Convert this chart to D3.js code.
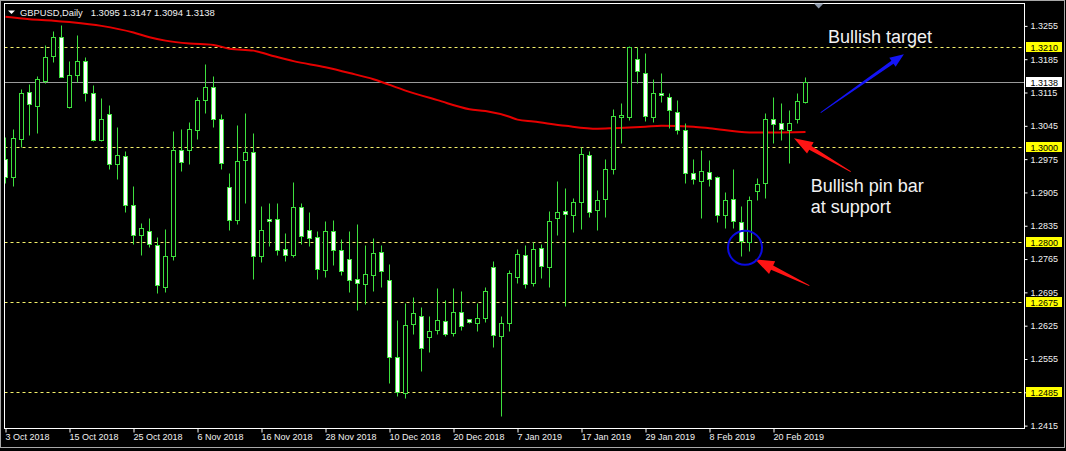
<!DOCTYPE html>
<html><head><meta charset="utf-8">
<script src="https://cdn.jsdelivr.net/npm/d3@7/dist/d3.min.js"></script>
<style>
html,body{margin:0;padding:0;background:#000;}
svg{display:block;}
text{font-family:"Liberation Sans",Arial,sans-serif;}
</style></head><body>
<svg id="chart" width="1066" height="451"></svg>
<script>
// ---------------- DATA ----------------
const symbolTitle = "GBPUSD,Daily";
const headerOHLC = "1.3095 1.3147 1.3094 1.3138";

const opens  = [1.2976,1.2938,1.3018,1.3117,1.3087,1.3139,1.3192,1.3232,1.3084,1.3151,
                1.3182,1.3115,1.3016,1.3069,1.2964,1.2981,1.2879,1.2815,1.2825,1.2795,
                1.2707,1.2772,1.2995,1.2995,1.3037,1.3100,1.3126,1.3060,1.2917,1.2848,
                1.2974,1.2990,1.2772,1.2850,1.2850,1.2787,1.2773,1.2874,1.2827,1.2811,
                1.2743,1.2823,1.2785,1.2766,1.2723,1.2712,1.2731,1.2780,1.2721,1.2559,
                1.2483,1.2629,1.2646,1.2601,1.2616,1.2634,1.2609,1.2653,1.2639,1.2630,
                1.2641,1.2748,1.2604,1.2630,1.2727,1.2774,1.2714,1.2789,1.2748,1.2851,
                1.2865,1.2858,1.2884,1.2983,1.2869,1.2892,1.2955,1.3063,1.3063,1.3185,
                1.3157,1.3064,1.3114,1.3106,1.3074,1.3036,1.2945,1.2929,1.2948,1.2938,
                1.2857,1.2892,1.2843,1.2801,1.2908,1.2924,1.3060,1.3050,1.3037,1.3060,
                1.3095];
const highs  = [1.3022,1.3039,1.3122,1.3133,1.3150,1.3215,1.3244,1.3257,1.3181,1.3236,
                1.3190,1.3131,1.3103,1.3089,1.3043,1.2992,1.2918,1.2841,1.2852,1.2811,
                1.2829,1.3034,1.3039,1.3053,1.3106,1.3175,1.3150,1.3069,1.2945,1.3046,
                1.3071,1.3029,1.2876,1.2883,1.2883,1.2820,1.2927,1.2883,1.2864,1.2825,
                1.2845,1.2848,1.2808,1.2823,1.2838,1.2795,1.2810,1.2794,1.2755,1.2636,
                1.2672,1.2686,1.2665,1.2646,1.2705,1.2678,1.2705,1.2697,1.2640,1.2673,
                1.2706,1.2760,1.2646,1.2742,1.2787,1.2795,1.2801,1.2797,1.2866,1.2928,
                1.2915,1.2894,1.3001,1.2992,1.2910,1.2975,1.3080,1.3092,1.3213,1.3210,
                1.3197,1.3143,1.3157,1.3113,1.3100,1.3050,1.2976,1.2995,1.2974,1.2940,
                1.2906,1.2955,1.2876,1.2897,1.2936,1.3071,1.3106,1.3094,1.3078,1.3113,
                1.3147];
const lows   = [1.2924,1.2919,1.3001,1.3025,1.3030,1.3134,1.3180,1.3147,1.3083,1.3138,
                1.3098,1.3013,1.3014,1.2955,1.2934,1.2864,1.2796,1.2774,1.2790,1.2694,
                1.2695,1.2764,1.2950,1.2964,1.3018,1.3072,1.3043,1.2955,1.2827,1.2838,
                1.2883,1.2723,1.2759,1.2792,1.2773,1.2761,1.2769,1.2797,1.2792,1.2723,
                1.2728,1.2752,1.2731,1.2695,1.2657,1.2671,1.2698,1.2707,1.2504,1.2477,
                1.2474,1.2608,1.2529,1.2569,1.2608,1.2604,1.2604,1.2615,1.2631,1.2613,
                1.2632,1.2580,1.2436,1.2613,1.2714,1.2705,1.2709,1.2726,1.2707,1.2816,
                1.2667,1.2822,1.2829,1.2853,1.2827,1.2853,1.2943,1.3009,1.3058,1.3136,
                1.3056,1.3053,1.3096,1.3041,1.3028,1.2924,1.2922,1.2852,1.2918,1.2843,
                1.2830,1.2830,1.2771,1.2782,1.2889,1.2894,1.3009,1.3015,1.2966,1.3051,
                1.3094];
const closes = [1.2938,1.3020,1.3113,1.3090,1.3143,1.3190,1.3232,1.3148,1.3151,1.3182,
                1.3113,1.3016,1.3060,1.2964,1.2983,1.2879,1.2815,1.2830,1.2797,1.2710,
                1.2772,1.2995,1.2968,1.3039,1.3099,1.3126,1.3060,1.2966,1.2848,1.2972,
                1.2990,1.2772,1.2827,1.2845,1.2785,1.2774,1.2874,1.2813,1.2810,1.2745,
                1.2823,1.2785,1.2740,1.2721,1.2714,1.2733,1.2778,1.2740,1.2559,1.2485,
                1.2627,1.2651,1.2578,1.2613,1.2637,1.2608,1.2653,1.2625,1.2632,1.2641,
                1.2697,1.2606,1.2630,1.2735,1.2776,1.2713,1.2787,1.2750,1.2844,1.2863,
                1.2860,1.2884,1.2985,1.2863,1.2890,1.2955,1.3066,1.3067,1.3211,1.3160,
                1.3066,1.3115,1.3109,1.3079,1.3036,1.2946,1.2933,1.2950,1.2934,1.2857,
                1.2890,1.2844,1.2803,1.2890,1.2922,1.3060,1.3048,1.3038,1.3050,1.3097,
                1.3138];

// moving average (red line), read at bar indices
const maBars   = [0,3,6,8,12,16,18,20,23,26,28,31,33,36,40,43,46,50,54,58,60,63,64,66,70,74,76,80,82,86,88,93,96,100];
const maValues = [1.3274,1.3269,1.3266,1.3263,1.3255,1.3241,1.3231,1.3224,1.3218,1.3215,1.3207,1.3203,1.3194,1.3181,1.3168,1.3156,1.3143,1.3119,1.3099,1.3080,1.3076,1.3064,1.3058,1.3054,1.3045,1.3039,1.3040,1.3043,1.3045,1.3043,1.3040,1.3031,1.3031,1.3032];

// horizontal levels
const levels = [1.3210, 1.3000, 1.2800, 1.2675, 1.2485];
const currentPrice = 1.3138;

// axis ticks
const priceTicks = [1.2415,1.2485,1.2555,1.2625,1.2695,1.2765,1.2835,1.2905,1.2975,1.3045,1.3115,1.3185,1.3255];
const dateTickBars = [0,8,16,24,32,40,48,56,64,72,80,88,96];
const dateTickLabels = ["3 Oct 2018","15 Oct 2018","25 Oct 2018","6 Nov 2018","16 Nov 2018","28 Nov 2018",
                        "10 Dec 2018","20 Dec 2018","7 Jan 2019","17 Jan 2019","29 Jan 2019","8 Feb 2019","20 Feb 2019"];

// annotations (bar index, price)
const textTarget = "Bullish target";
const textPin = ["Bullish pin bar","at support"];

// ---------------- DRAW ----------------
const svg = d3.select("#chart");
const W = 1066, H = 451;
const plot = {l:4.5, t:3.5, r:1024.5, b:428.5};

const x = d3.scaleLinear().domain([0,1]).range([5.5,13.5]);
const y = d3.scaleLinear().domain([1.2485,1.3210]).range([392.3,47.3]);
const py = v => Math.round(y(v)) + 0.5;

const GREEN = "#3ee03e";

svg.append("rect").attr("width",W).attr("height",H).attr("fill","#000");
// outer window border
svg.append("rect").attr("x",0.5).attr("y",0.5).attr("width",1064).attr("height",447)
   .attr("fill","none").attr("stroke","#a8a8a8");

const defs = svg.append("defs");
defs.append("clipPath").attr("id","clip").append("rect")
  .attr("x",plot.l+0.5).attr("y",plot.t+0.5).attr("width",plot.r-plot.l-1).attr("height",plot.b-plot.t-1);

const g = svg.append("g").attr("clip-path","url(#clip)");

// level lines
g.selectAll("line.level").data(levels).join("line").attr("class","level")
  .attr("x1",plot.l).attr("x2",plot.r).attr("y1",d=>py(d)).attr("y2",d=>py(d))
  .attr("stroke","#f4f06a").attr("stroke-dasharray","3,3").attr("stroke-width",1);

// current price line
g.append("line").attr("x1",plot.l).attr("x2",plot.r).attr("y1",py(currentPrice)).attr("y2",py(currentPrice))
  .attr("stroke","#9a9a9a").attr("stroke-width",1);

// moving average
const maData = maBars.map((b,i)=>({b, v:maValues[i]}));
g.append("path").datum(maData)
  .attr("d", d3.line().x(d=>x(d.b)).y(d=>y(d.v)).curve(d3.curveMonotoneX))
  .attr("fill","none").attr("stroke","#e60000").attr("stroke-width",2);

// candles
const bars = d3.range(opens.length).map(i=>({i,o:opens[i],h:highs[i],l:lows[i],c:closes[i]}));
const cg = g.selectAll("g.candle").data(bars).join("g").attr("class","candle");
cg.append("line")
  .attr("x1",d=>x(d.i)).attr("x2",d=>x(d.i))
  .attr("y1",d=>py(d.h)).attr("y2",d=>py(d.l))
  .attr("stroke",GREEN).attr("stroke-width",1);
cg.append("rect")
  .attr("x",d=>x(d.i)-2).attr("width",4)
  .attr("y",d=>py(Math.max(d.o,d.c)))
  .attr("height",d=>Math.max(0, py(Math.min(d.o,d.c)) - py(Math.max(d.o,d.c))))
  .attr("fill",d=>d.c>=d.o ? "#000" : "#fff")
  .attr("stroke",GREEN).attr("stroke-width",1);

// annotations
function arrowPoly(b1,p1,b2,p2,headLen,hw,sTail,sHead){
  const x1=x(b1),y1=y(p1),x2=x(b2),y2=y(p2);
  const dx=x2-x1,dy=y2-y1,L=Math.hypot(dx,dy);
  const ux=dx/L,uy=dy/L,nx=-uy,ny=ux;
  const bx=x2-ux*headLen,by=y2-uy*headLen;
  const pts=[[x1+nx*sTail,y1+ny*sTail],[bx+nx*sHead,by+ny*sHead],[bx+nx*hw,by+ny*hw],[x2,y2],
             [bx-nx*hw,by-ny*hw],[bx-nx*sHead,by-ny*sHead],[x1-nx*sTail,y1-ny*sTail]];
  return "M"+pts.map(p=>p[0].toFixed(2)+","+p[1].toFixed(2)).join("L")+"Z";
}
const ann = svg.append("g");
ann.append("path").attr("d",arrowPoly(101.9,1.30726,112.3,1.31953,14,5.5,0.4,1.8)).attr("fill","#1414f5");
ann.append("path").attr("d",arrowPoly(105.65,1.29486,98.56,1.30188,19,6.5,0.4,2.2)).attr("fill","#ff1414");
ann.append("path").attr("d",arrowPoly(100.48,1.2709,93.69,1.27645,19,7,0.4,2.4)).attr("fill","#ff1414");
ann.append("circle").attr("cx",x(92.44)).attr("cy",y(1.27889)).attr("r",17)
  .attr("fill","none").attr("stroke","#0a0ae0").attr("stroke-width",2);

ann.append("text").attr("x",x(102.8)).attr("y",y(1.32184)).text(textTarget)
  .attr("fill","#f2f2f2").attr("font-size",18);
ann.selectAll("text.pin").data(textPin).join("text").attr("class","pin")
  .attr("x",x(100.65)).attr("y",(d,i)=>y([1.29066,1.28624][i])).text(d=>d)
  .attr("fill","#f2f2f2").attr("font-size",18);

// chart frame
svg.append("rect").attr("x",plot.l).attr("y",plot.t).attr("width",plot.r-plot.l).attr("height",plot.b-plot.t)
  .attr("fill","none").attr("stroke","#fff").attr("stroke-width",1);

// right price axis
const ya = svg.append("g").attr("transform",`translate(${plot.r},0)`)
  .call(d3.axisRight(y).tickValues(priceTicks).tickSize(3).tickPadding(3).tickFormat(d3.format(".4f")));
ya.select(".domain").remove();
ya.selectAll(".tick line").attr("stroke","#fff");
ya.selectAll(".tick text").attr("fill","#f0f0f0").attr("font-size",9).attr("font-family","Liberation Sans, Arial, sans-serif");

// bottom date axis
const xa = svg.append("g").attr("transform",`translate(0,${plot.b})`)
  .call(d3.axisBottom(x).tickValues(dateTickBars).tickSize(4).tickPadding(1).tickFormat((d,i)=>dateTickLabels[i]));
xa.select(".domain").remove();
xa.selectAll(".tick line").attr("stroke","#fff");
xa.selectAll(".tick text").attr("fill","#f0f0f0").attr("font-size",9).attr("text-anchor","start").attr("dx",-0.5)
  .attr("font-family","Liberation Sans, Arial, sans-serif");

// level labels
const lbl = svg.append("g");
const lvlLab = lbl.selectAll("g.lv").data(levels).join("g").attr("class","lv")
  .attr("transform",d=>`translate(1026,${py(d)})`);
lvlLab.append("rect").attr("x",0).attr("y",-5.5).attr("width",36).attr("height",10).attr("fill","#ffff00");
lvlLab.append("text").attr("x",4.5).attr("dy","0.35em").text(d=>d3.format(".4f")(d))
  .attr("fill","#000").attr("font-size",9);
const cur = lbl.append("g").attr("transform",`translate(1026,${py(currentPrice)})`);
cur.append("rect").attr("x",0).attr("y",-5.5).attr("width",36).attr("height",10).attr("fill","#fff");
cur.append("text").attr("x",4.5).attr("dy","0.35em").text(d3.format(".4f")(currentPrice))
  .attr("fill","#000").attr("font-size",9);

// header
svg.append("path").attr("d","M8,10.5L15,10.5L11.5,14Z").attr("fill","#fff");
svg.append("text").attr("x",20).attr("y",15.5).attr("fill","#f0f0f0").attr("font-size",9.5)
  .attr("textLength",62.7).attr("lengthAdjust","spacingAndGlyphs").text(symbolTitle);
svg.append("text").attr("x",90.7).attr("y",15.5).attr("fill","#f0f0f0").attr("font-size",9.5)
  .text(headerOHLC);

// chart-shift marker
svg.append("path").attr("d","M814,3.5L823.5,3.5L818.7,8.5Z").attr("fill","#8a96a8");
</script>
</body></html>
